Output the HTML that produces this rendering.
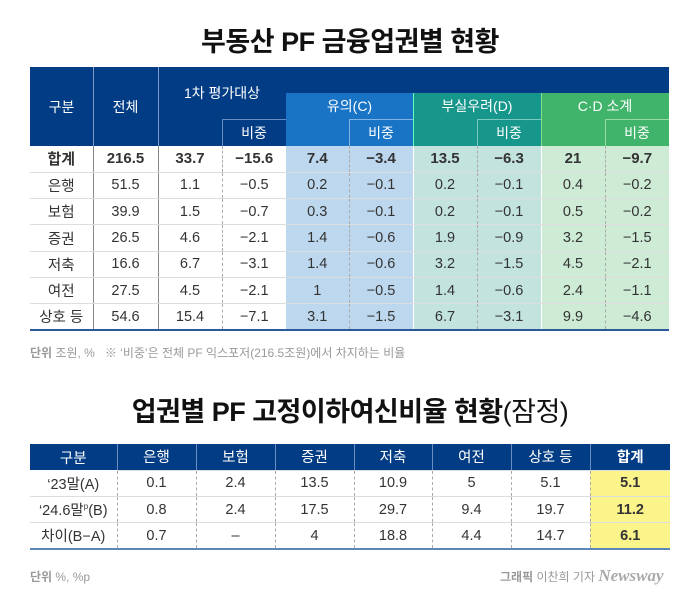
<!DOCTYPE html>
<html><head><meta charset="utf-8"><style>
*{margin:0;padding:0;box-sizing:border-box}
body{width:700px;height:597px;background:#fff;position:relative;overflow:hidden;font-family:"Liberation Sans","Noto Sans CJK KR",sans-serif;color:#333}
.a{position:absolute}
.t{font-weight:bold;font-size:27px;color:#111;text-align:center;width:700px;letter-spacing:-0.5px}
.h{color:#fff;font-size:14px;display:flex;align-items:center;justify-content:center}
table{position:absolute;border-collapse:collapse;table-layout:fixed;font-size:14.5px}
td{height:26.3px;text-align:center;border-bottom:1px solid #ddd;padding:0;white-space:nowrap}
.dl{border-left:1px dashed #aaa}
.sl{border-left:1px solid #888}
.wl{border-left:1px solid #fff}
.b td{font-weight:bold;font-size:15px}
.c1{background:#bdd8ee}.c2{background:#c3e3df}.c3{background:#cdebd5}
.y{background:#fbf48a;font-weight:bold}
</style></head><body>
<div class="a t" style="top:20px">부동산 PF 금융업권별 현황</div>

<div class="a" style="left:30px;top:67px;width:639px;height:79px;background:#023c84"></div>
<div class="a" style="left:93px;top:67px;width:1px;height:79px;background:#7f9cc4"></div>
<div class="a" style="left:158px;top:67px;width:1px;height:79px;background:#7f9cc4"></div>
<div class="a" style="left:286px;top:93px;width:127px;height:53px;background:#1a74c5"></div>
<div class="a" style="left:413px;top:93px;width:128px;height:53px;background:#17968c;border-left:1px solid #6fb"></div>
<div class="a" style="left:541px;top:93px;width:128px;height:53px;background:#40b46a;border-left:1px solid #8d8"></div>
<div class="a" style="left:222px;top:119px;width:64px;height:27px;border-left:1px solid #6a8cc0;border-top:1px solid #6a8cc0"></div>
<div class="a" style="left:349px;top:119px;width:64px;height:27px;border-left:1px solid #7fb3e3;border-top:1px solid #7fb3e3"></div>
<div class="a" style="left:477px;top:119px;width:64px;height:27px;border-left:1px solid #7cc9c0;border-top:1px solid #7cc9c0"></div>
<div class="a" style="left:605px;top:119px;width:64px;height:27px;border-left:1px solid #95da9f;border-top:1px solid #95da9f"></div>
<div class="a h" style="left:30px;top:67px;width:63px;height:79px">구분</div>
<div class="a h" style="left:93px;top:67px;width:65px;height:79px">전체</div>
<div class="a h" style="left:158px;top:80px;width:128px;height:26px">1차 평가대상</div>
<div class="a h" style="left:286px;top:93px;width:127px;height:26px">유의(C)</div>
<div class="a h" style="left:413px;top:93px;width:128px;height:26px">부실우려(D)</div>
<div class="a h" style="left:541px;top:93px;width:128px;height:26px">C·D 소계</div>
<div class="a h" style="left:222px;top:119px;width:64px;height:27px">비중</div>
<div class="a h" style="left:349px;top:119px;width:64px;height:27px">비중</div>
<div class="a h" style="left:477px;top:119px;width:64px;height:27px">비중</div>
<div class="a h" style="left:605px;top:119px;width:64px;height:27px">비중</div>

<table style="left:30px;top:146px;width:639px;border-bottom:2px solid #2a5a9a">
<colgroup><col style="width:63px"><col style="width:65px"><col style="width:64px"><col style="width:64px"><col style="width:63px"><col style="width:64px"><col style="width:64px"><col style="width:64px"><col style="width:64px"><col style="width:64px"></colgroup>
<tr class="b"><td>합계</td><td class="sl">216.5</td><td class="sl">33.7</td><td class="dl">−15.6</td><td class="c1">7.4</td><td class="c1 dl">−3.4</td><td class="c2 wl">13.5</td><td class="c2 dl">−6.3</td><td class="c3 wl">21</td><td class="c3 dl">−9.7</td></tr>
<tr><td>은행</td><td class="sl">51.5</td><td class="sl">1.1</td><td class="dl">−0.5</td><td class="c1">0.2</td><td class="c1 dl">−0.1</td><td class="c2 wl">0.2</td><td class="c2 dl">−0.1</td><td class="c3 wl">0.4</td><td class="c3 dl">−0.2</td></tr>
<tr><td>보험</td><td class="sl">39.9</td><td class="sl">1.5</td><td class="dl">−0.7</td><td class="c1">0.3</td><td class="c1 dl">−0.1</td><td class="c2 wl">0.2</td><td class="c2 dl">−0.1</td><td class="c3 wl">0.5</td><td class="c3 dl">−0.2</td></tr>
<tr><td>증권</td><td class="sl">26.5</td><td class="sl">4.6</td><td class="dl">−2.1</td><td class="c1">1.4</td><td class="c1 dl">−0.6</td><td class="c2 wl">1.9</td><td class="c2 dl">−0.9</td><td class="c3 wl">3.2</td><td class="c3 dl">−1.5</td></tr>
<tr><td>저축</td><td class="sl">16.6</td><td class="sl">6.7</td><td class="dl">−3.1</td><td class="c1">1.4</td><td class="c1 dl">−0.6</td><td class="c2 wl">3.2</td><td class="c2 dl">−1.5</td><td class="c3 wl">4.5</td><td class="c3 dl">−2.1</td></tr>
<tr><td>여전</td><td class="sl">27.5</td><td class="sl">4.5</td><td class="dl">−2.1</td><td class="c1">1</td><td class="c1 dl">−0.5</td><td class="c2 wl">1.4</td><td class="c2 dl">−0.6</td><td class="c3 wl">2.4</td><td class="c3 dl">−1.1</td></tr>
<tr><td>상호 등</td><td class="sl">54.6</td><td class="sl">15.4</td><td class="dl">−7.1</td><td class="c1">3.1</td><td class="c1 dl">−1.5</td><td class="c2 wl">6.7</td><td class="c2 dl">−3.1</td><td class="c3 wl">9.9</td><td class="c3 dl">−4.6</td></tr>
</table>
<div class="a" style="left:30px;top:344px;font-size:12px;color:#999"><b>단위</b> 조원, %&nbsp;&nbsp; ※ ‘비중’은 전체 PF 익스포저(216.5조원)에서 차지하는 비율</div>

<div class="a t" style="top:390px">업권별 PF 고정이하여신비율 현황<span style="font-weight:normal">(잠정)</span></div>

<table style="left:30px;top:444px;width:640px;border-bottom:2px solid #5b86b8">
<colgroup><col style="width:87px"><col style="width:79px"><col style="width:79px"><col style="width:79px"><col style="width:78px"><col style="width:79px"><col style="width:79px"><col style="width:80px"></colgroup>
<tr style="background:#023c84;color:#fff"><td style="border:0">구분</td><td class="wl" style="border-left-color:#6a8cc0">은행</td><td class="wl" style="border-left-color:#6a8cc0">보험</td><td class="wl" style="border-left-color:#6a8cc0">증권</td><td class="wl" style="border-left-color:#6a8cc0">저축</td><td class="wl" style="border-left-color:#6a8cc0">여전</td><td class="wl" style="border-left-color:#6a8cc0">상호 등</td><td class="wl" style="border-left-color:#6a8cc0;font-weight:bold">합계</td></tr>
<tr><td>‘23말(A)</td><td class="dl">0.1</td><td class="dl">2.4</td><td class="dl">13.5</td><td class="dl">10.9</td><td class="dl">5</td><td class="dl">5.1</td><td class="dl y">5.1</td></tr>
<tr><td>‘24.6말<sup style="font-size:8px">p</sup>(B)</td><td class="dl">0.8</td><td class="dl">2.4</td><td class="dl">17.5</td><td class="dl">29.7</td><td class="dl">9.4</td><td class="dl">19.7</td><td class="dl y">11.2</td></tr>
<tr><td>차이(B−A)</td><td class="dl">0.7</td><td class="dl">–</td><td class="dl">4</td><td class="dl">18.8</td><td class="dl">4.4</td><td class="dl">14.7</td><td class="dl y">6.1</td></tr>
</table>
<div class="a" style="left:30px;top:568px;font-size:12px;color:#999"><b>단위</b> %, %p</div>
<div class="a" style="left:500px;top:566px;font-size:12px;color:#999"><b>그래픽</b> 이찬희 기자 <i style="font-size:17px;font-weight:bold;color:#aaa;font-family:'Liberation Serif',serif">Newsway</i></div>
</body></html>
